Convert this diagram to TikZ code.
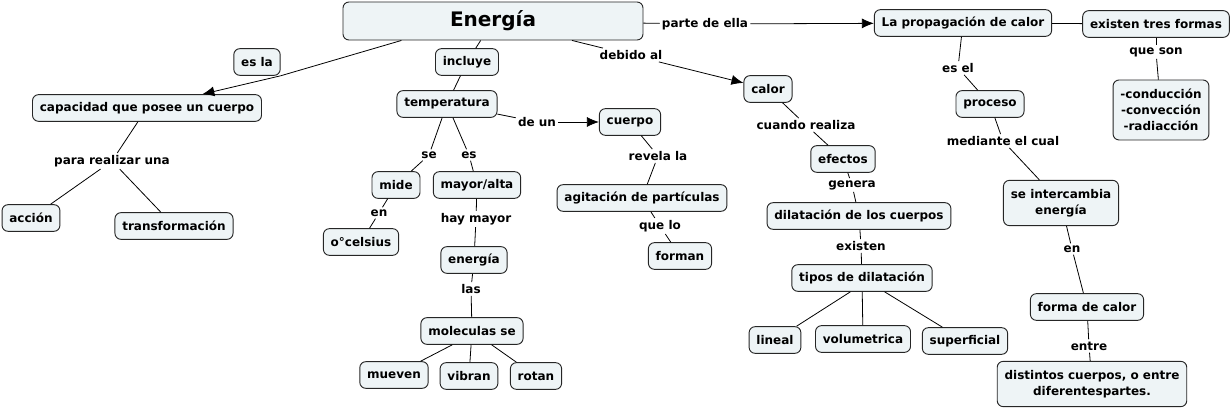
\documentclass[tikz,border=0pt]{standalone}
\usepackage{fontspec}
\setmainfont{DejaVu Sans}
\usetikzlibrary{arrows.meta}
\definecolor{conceptfill}{RGB}{238,244,246}
\tikzset{
  basic/.style  = {draw=black!85, line width=0.7pt, fill=conceptfill,
                   rounded corners=4.5pt, align=center,
                   font=\fontsize{9}{12}\selectfont\bfseries,
                   inner xsep=5.5pt, inner ysep=2pt, minimum height=20pt},
  root/.style   = {basic, font=\fontsize{15}{18}\selectfont\bfseries,
                   minimum width=225pt, minimum height=28.5pt},
  link/.style   = {font=\fontsize{9}{12}\selectfont\bfseries, inner sep=1.5pt},
  conn/.style   = {draw, line width=0.6pt},
  arr/.style    = {conn, -{Latex[length=9pt,width=7.5pt]}}
}

\begin{document}
\begin{tikzpicture}[x=0.75pt, y=-0.75pt]
\useasboundingbox (0,0) rectangle (1232,409);

% root of the map
\node[root] (energia) at (493,21) {Energía};

% left branch
\node[basic] (esla) at (257,62) {es la};
\node[basic] (capacidad) at (147,108) {capacidad que posee un cuerpo};
\node[link] (para) at (112,161) {para realizar una};
\node[basic] (accion) at (31,218) {acción};
\node[basic] (transformacion) at (174,226) {transformación};

% temperature branch
\node[basic] (incluye) at (467,62) {incluye};
\node[basic] (temperatura) at (447,104) {temperatura};
\node[link] (se) at (429,155) {se};
\node[link] (es) at (469,155) {es};
\node[basic] (mide) at (396,185) {mide};
\node[link] (en1) at (379,213) {en};
\node[basic] (celsius) at (361,242) {o°celsius};
\node[basic] (mayor) at (477,185) {mayor/alta};
\node[link] (haymayor) at (476,219) {hay mayor};
\node[basic] (energia2) at (474,260) {energía};
\node[link] (las) at (471,289) {las};
\node[basic] (moleculas) at (472,331) {moleculas se};
\node[basic] (mueven) at (394,375) {mueven};
\node[basic] (vibran) at (469,376) {vibran};
\node[basic] (rotan) at (536,376) {rotan};

\node[link] (deun) at (537,122) {de un};
\node[basic] (cuerpo) at (630,122) {cuerpo};
\node[link] (revela) at (658,156) {revela la};
\node[basic] (agitacion) at (642,198) {agitación de partículas};
\node[link] (quelo) at (660,226) {que lo};
\node[basic] (forman) at (680,256) {forman};

% heat branch
\node[link] (debido) at (631,55) {debido al};
\node[basic] (calor) at (768,89) {calor};
\node[link] (cuando) at (806,125) {cuando realiza};
\node[basic] (efectos) at (843,159) {efectos};
\node[link] (genera) at (852,185) {genera};
\node[basic] (dilatacion) at (859,216) {dilatación de los cuerpos};
\node[link] (existen) at (861,246) {existen};
\node[basic] (tipos) at (862,278) {tipos de dilatación};
\node[basic] (lineal) at (775,340) {lineal};
\node[basic] (volumetrica) at (863,339) {volumetrica};
\node[basic] (superficial) at (965,341) {superficial};

% propagation branch
\node[link] (partedeella) at (705,24) {parte de ella};
\node[basic] (propagacion) at (963,23) {La propagación de calor};
\node[basic] (tresformas) at (1156,24) {existen tres formas};
\node[link] (queson) at (1156,52) {que son};
\node[basic, minimum height=45pt] (formas) at (1161,110) {-conducción\\-convección\\-radiacción};
\node[link] (esel) at (958,68) {es el};
\node[basic] (proceso) at (990,104) {proceso};
\node[link] (mediante) at (1003,141) {mediante el cual};
\node[basic, minimum height=34pt] (intercambia) at (1061,203) {se intercambia\\energía};
\node[link] (en2) at (1072,249) {en};
\node[basic] (formacalor) at (1087,307) {forma de calor};
\node[link] (entre) at (1089,346) {entre};
\node[basic, minimum height=34pt] (distintos) at (1092,384) {distintos cuerpos, o entre\\diferentespartes.};

% plain connectors
\foreach \a/\b in {energia/incluye, incluye/temperatura, temperatura/deun,
    temperatura/se, se/mide, temperatura/es, es/mayor, mide/en1, en1/celsius,
    mayor/haymayor, haymayor/energia2, energia2/las, las/moleculas,
    moleculas/vibran, moleculas/rotan,
    cuerpo/revela, revela/agitacion, agitacion/quelo, quelo/forman,
    capacidad/para, para/accion, para/transformacion,
    energia/debido, energia/partedeella,
    calor/cuando, cuando/efectos, efectos/genera, genera/dilatacion,
    dilatacion/existen, existen/tipos, tipos/volumetrica,
    tipos/superficial,
    propagacion/esel, esel/proceso, proceso/mediante, mediante/intercambia,
    intercambia/en2, en2/formacalor, formacalor/entre, entre/distintos,
    propagacion/tresformas, tresformas/queson, queson/formas}
  \draw[conn] (\a) -- (\b);
\draw[conn] (moleculas.-145) -- (mueven);
\draw[conn] (tipos.-130) -- (lineal);

% connectors with arrow heads
\draw[conn] (energia.192) -- (esla.south east);
\draw[arr] (esla.south east) -- (capacidad.14);
\draw[arr] (deun) -- (cuerpo);
\draw[arr] (debido) -- (calor);
\draw[arr] (partedeella) -- (propagacion);
\end{tikzpicture}
\end{document}
